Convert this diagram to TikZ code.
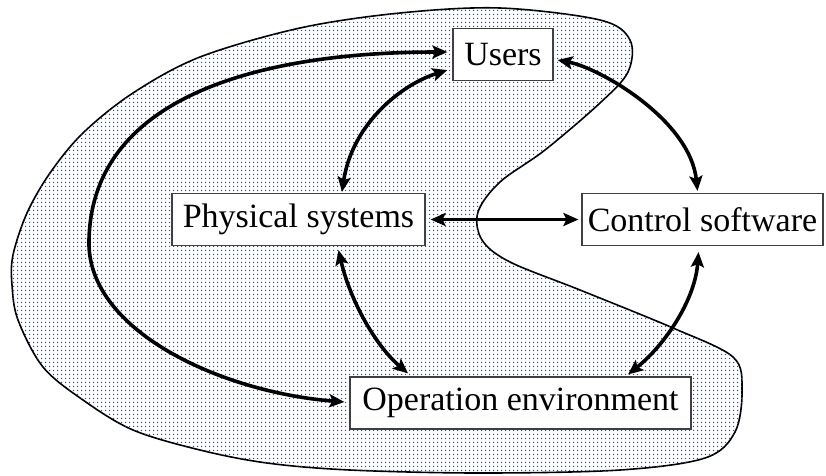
\documentclass[tikz,border=0pt]{standalone}
\usepackage{fontspec}
\setmainfont{Liberation Serif}
\usetikzlibrary{arrows.meta,calc,patterns}
\definecolor{dotblue}{rgb}{0.15,0.25,0.85}
\definecolor{boxline}{rgb}{0.25,0.25,0.25}
% small round dots on a 4pt grid, coloured by the pattern colour
\pgfdeclarepatternformonly{bluedots}{\pgfpointorigin}{\pgfqpoint{4pt}{4pt}}{\pgfqpoint{4pt}{4pt}}{%
  \pgfpathcircle{\pgfqpoint{2pt}{2pt}}{0.9pt}\pgfusepath{fill}}
\tikzset{
  block/.style={draw=boxline, line width=1.2pt, fill=white, minimum height=52pt,
    inner sep=0pt, font=\fontsize{34}{40}\selectfont},
  link/.style={line width=3.6pt, black,
    {Stealth[length=15pt,width=13pt,inset=3pt]}-{Stealth[length=15pt,width=13pt,inset=3pt]}},
  region/.style={line width=1.6pt, black, fill=white,
    postaction={pattern=bluedots, pattern color=dotblue}}
}
\begin{document}
\begin{tikzpicture}[x=1pt,y=-1pt]
\useasboundingbox (0,0) rectangle (826,475);

% shaded region shared by users, physical systems and environment
\draw[region] plot[smooth cycle, tension=0.55] coordinates {
  (13,255) (27,213) (50,173) (83,133) (133,93) (200,57) (300,28) (400,13)
  (500,8) (600,20) (630,40) (628,72) (600,103) (545,150) (500,182) (478,212)
  (482,240) (510,262) (580,290) (673,328) (733,357) (742,390) (735,432)
  (705,458) (620,470) (480,473) (350,470) (267,463) (200,450) (133,430)
  (83,400) (43,367) (18,320) (12,285)};

% components
\node[block, minimum width=100pt] (u) at (503,54.5) {Users};
\node[block, minimum width=253pt] (p) at (298.5,219.5) {Physical systems};
\node[block, minimum width=241pt] (c) at (702.5,219.5) {Control software};
\node[block, minimum width=341pt] (o) at (520.5,403) {Operation environment};

% interactions
\draw[link] ($(u.east)+(4,5.5)$) .. controls (600,68) and (690,120) .. ($(c.north)+(-5,-2)$);
\draw[link] ($(u.south west)+(-5,-11)$) .. controls (400,85) and (352,125) .. ($(p.north)+(43.5,-1)$);
\draw[link] ($(u.west)+(-5,-2.5)$) .. controls (270,52) and (92,92) .. (89,240)
            .. controls (86,330) and (220,392) .. ($(o.west)+(-5,-1)$);
\draw[link] ($(p.east)+(5,0)$) -- ($(c.west)+(-3,0)$);
\draw[link] ($(p.south)+(40,4)$) .. controls (350,300) and (375,345) .. ($(o.north)+(-112.5,-3)$);
\draw[link] ($(c.south)+(-4,6)$) .. controls (695,300) and (665,345) .. ($(o.north)+(107.5,-2)$);
\end{tikzpicture}
\end{document}
